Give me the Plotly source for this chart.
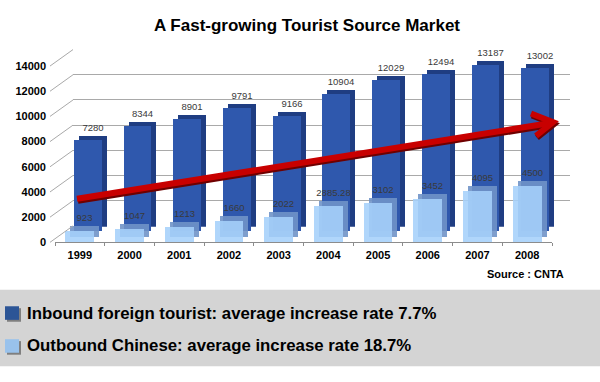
import plotly.graph_objects as go

# ---------------- data ----------------
years = ["1999", "2000", "2001", "2002", "2003", "2004", "2005", "2006", "2007", "2008"]
inbound = [7280, 8344, 8901, 9791, 9166, 10904, 12029, 12494, 13187, 13002]
outbound = [923, 1047, 1213, 1660, 2022, 2885.28, 3102, 3452, 4095, 4500]
inbound_labels = ["7280", "8344", "8901", "9791", "9166", "10904", "12029", "12494", "13187", "13002"]
outbound_labels = ["923", "1047", "1213", "1660", "2022", "2885.28", "3102", "3452", "4095", "4500"]
y_ticks = [0, 2000, 4000, 6000, 8000, 10000, 12000, 14000]
title_text = "A Fast-growing Tourist Source Market"
legend_texts = ["Inbound foreign tourist: average increase rate 7.7%",
                "Outbound Chinese: average increase rate 18.7%"]
source_text = "Source : CNTA"

# ---------------- geometry (pixels) ----------------
W, H = 600, 382
FX0, FX1 = 55, 552       # front plane x extent
FY0, FY1 = 244, 62       # front plane y of 0 and of 14000
YMAX = 14000
DARK = (8, -11)          # dark series plane offset
DEPTH = (5, -5)          # bar depth offset
WALL = (18, -17)         # back wall offset

FONT = "Arial, Liberation Sans, Helvetica, sans-serif"


def px(x):
    return x / W


def py(y):
    return 1 - y / H


def doms(dx, dy):
    return [px(FX0 + dx), px(FX1 + dx)], [py(FY0 + dy), py(FY1 + dy)]


fig = go.Figure()

planes = [
    ("", WALL),
    ("2", (DARK[0] + DEPTH[0], DARK[1] + DEPTH[1])),
    ("3", DARK),
    ("4", DEPTH),
    ("5", (0, 0)),
]

for sid, (dx, dy) in planes:
    xd, yd = doms(dx, dy)
    xa = dict(domain=xd, range=[-0.5, 9.5], type="category",
              categoryorder="array", categoryarray=years,
              anchor="y" + sid, visible=False, fixedrange=True)
    ya = dict(domain=yd, range=[0, YMAX], anchor="x" + sid,
              visible=False, fixedrange=True)
    fig.update_layout(**{"xaxis" + sid: xa, "yaxis" + sid: ya})

# back wall gridlines
fig.layout.yaxis.update(visible=True, showgrid=True, gridcolor="#a9a9a9", gridwidth=1,
                        tickvals=y_ticks, showticklabels=False, ticks="",
                        zeroline=False, showline=False)
fig.add_trace(go.Scatter(x=years, y=[0] * len(years), mode="markers",
                         marker=dict(opacity=0), hoverinfo="skip",
                         xaxis="x", yaxis="y", showlegend=False))

# dark (inbound) bars: depth then front
fig.add_trace(go.Bar(x=years, y=inbound, width=0.56, marker=dict(color="#1f3d82", line=dict(width=0)),
                     text=inbound_labels, textposition="outside", constraintext="none",
                     cliponaxis=False, textfont=dict(family=FONT, size=9.5, color="#3a3a3a"),
                     xaxis="x2", yaxis="y2", showlegend=False, hoverinfo="skip"))
fig.add_trace(go.Bar(x=years, y=inbound, width=0.56, marker=dict(color="#2f58ad", line=dict(width=0)),
                     xaxis="x3", yaxis="y3", showlegend=False, hoverinfo="skip"))

# light (outbound) bars: depth then front, semi-transparent
fig.add_trace(go.Bar(x=years, y=outbound, width=0.58,
                     marker=dict(color="rgba(112,148,200,0.9)", line=dict(width=0)),
                     text=outbound_labels, textposition="outside", constraintext="none",
                     cliponaxis=False, textfont=dict(family=FONT, size=9.5, color="#3a3a3a"),
                     xaxis="x4", yaxis="y4", showlegend=False, hoverinfo="skip"))
fig.add_trace(go.Bar(x=years, y=outbound, width=0.58,
                     marker=dict(color="rgba(165,208,250,0.88)", line=dict(width=0)),
                     xaxis="x5", yaxis="y5", showlegend=False, hoverinfo="skip"))

# front axes with labels
fig.layout.xaxis5.update(visible=True, showline=True, linecolor="#8c8c8c", linewidth=1,
                         ticks="outside", tickson="boundaries", ticklen=3, tickcolor="#8c8c8c",
                         tickfont=dict(family=FONT, size=11, color="#000000", weight="bold"),
                         ticklabelstandoff=2, showgrid=False, zeroline=False)
fig.layout.yaxis5.update(visible=True, showline=False, showgrid=False, zeroline=False,
                         tickvals=y_ticks, tickformat="d", ticks="", ticklabelstandoff=8,
                         tickfont=dict(family=FONT, size=11, color="#000000", weight="bold"))

shapes = []
# legend band
shapes.append(dict(type="rect", xref="paper", yref="paper", x0=0, x1=1, y0=py(372), y1=py(293),
                   fillcolor="#d4d4d4", line=dict(width=0), layer="below"))
# perspective lines joining the front labels to the back wall
for v in y_ticks:
    yf = FY0 + (FY1 - FY0) * v / YMAX
    shapes.append(dict(type="line", xref="paper", yref="paper",
                       x0=px(FX0 - 5), y0=py(yf), x1=px(FX0 + WALL[0]), y1=py(yf + WALL[1]),
                       line=dict(color="#a9a9a9", width=1)))
# red trend arrow (shadow + arrow)
for off, col in [((1, 2), "#6e0000"), ((0, 0), "#c80000")]:
    ox, oy = off
    shapes.append(dict(type="line", xref="paper", yref="paper",
                       x0=px(77 + ox), y0=py(199 + oy), x1=px(549 + ox), y1=py(121 + oy),
                       line=dict(color=col, width=6)))
    shapes.append(dict(type="path", xref="paper", yref="paper",
                       path=f"M {px(531+ox)},{py(111+oy)} L {px(553+ox)},{py(120+oy)} L {px(536+ox)},{py(134+oy)}",
                       line=dict(color=col, width=6)))
# legend swatches
for (yc, col) in [(317, "#2c5596"), (351, "#99c2ec")]:
    shapes.append(dict(type="rect", xref="paper", yref="paper",
                       x0=px(7), x1=px(21), y0=py(yc + 9), y1=py(yc - 5),
                       fillcolor="#7f7f7f", line=dict(width=0)))
    shapes.append(dict(type="rect", xref="paper", yref="paper",
                       x0=px(5), x1=px(19), y0=py(yc + 7), y1=py(yc - 7),
                       fillcolor=col, line=dict(width=0)))

annotations = []
for yc, txt in zip([317, 351], legend_texts):
    annotations.append(dict(text=txt, xref="paper", yref="paper", x=px(25), y=py(yc),
                            xanchor="left", yanchor="middle", showarrow=False,
                            font=dict(family=FONT, size=16.8, color="#000000", weight="bold")))
annotations.append(dict(text=source_text, xref="paper", yref="paper", x=px(566), y=py(277),
                        xanchor="right", yanchor="middle", showarrow=False,
                        font=dict(family=FONT, size=11, color="#000000", weight="bold")))

fig.update_layout(
    width=W, height=H,
    margin=dict(l=0, r=0, t=0, b=0),
    paper_bgcolor="#ffffff", plot_bgcolor="rgba(0,0,0,0)",
    title=dict(text=title_text, x=px(307), xanchor="center", y=py(25), yanchor="middle",
               font=dict(family=FONT, size=17, color="#000000", weight="bold")),
    shapes=shapes, annotations=annotations,
    showlegend=False, bargap=0,
)

fig.write_html("out.html", config={"displayModeBar": False},
               post_script="document.body.style.margin='0';document.body.style.padding='0';")
